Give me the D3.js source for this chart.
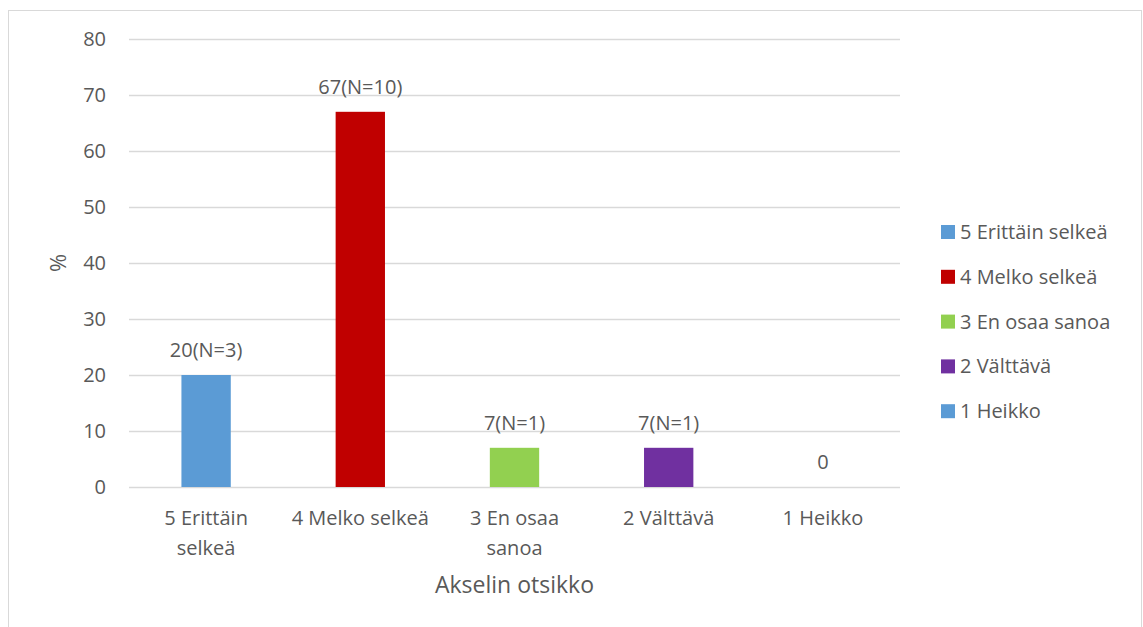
<!DOCTYPE html>
<html>
<head>
<meta charset="utf-8">
<script src="https://cdn.jsdelivr.net/npm/d3@7"></script>
<style>
  html, body { margin: 0; padding: 0; background: #fff; }
  svg { display: block; }
  text { font-family: "Open Sans", Lato, sans-serif; fill: #595959; }
</style>
</head>
<body>
<svg id="chart" width="1143" height="627"></svg>
<script>
// Survey answers: share of respondents (%) and count per answer
const categories = ["5 Erittäin selkeä", "4 Melko selkeä", "3 En osaa sanoa", "2 Välttävä", "1 Heikko"];
const axisLabels = [["5 Erittäin", "selkeä"], ["4 Melko selkeä"], ["3 En osaa", "sanoa"], ["2 Välttävä"], ["1 Heikko"]];
const percents = [20, 67, 7, 7, 0];
const counts = [3, 10, 1, 1, 0];
const colors = ["#5B9BD5", "#C00000", "#92D050", "#7030A0", "#5B9BD5"];
const yTicks = [0, 10, 20, 30, 40, 50, 60, 70, 80];
const yTitle = "%";
const xTitle = "Akselin otsikko";

const FONT = 20;
const svg = d3.select("#chart");

// chart frame
svg.append("rect")
  .attr("x", 8.5).attr("y", 10.5)
  .attr("width", 1133).attr("height", 640)
  .attr("fill", "#fff").attr("stroke", "#d9d9d9").attr("stroke-width", 1);

const plot = { left: 129, right: 900, top: 39, bottom: 487 };

const x = d3.scaleBand()
  .domain(categories)
  .range([plot.left, plot.right])
  .paddingInner(0.68)
  .paddingOuter(0.34);

const y = d3.scaleLinear()
  .domain([0, 80])
  .range([plot.bottom, plot.top]);

// horizontal gridlines
const yAxis = d3.axisLeft(y)
  .tickValues(yTicks)
  .tickSize(-(plot.right - plot.left))
  .tickPadding(23)
  .tickFormat(d3.format("d"));

const gy = svg.append("g")
  .attr("transform", `translate(${plot.left},0)`)
  .call(yAxis);
gy.select(".domain").remove();
gy.selectAll(".tick line").attr("stroke", "#d9d9d9").attr("stroke-width", 1.3);
gy.selectAll(".tick text")
  .attr("font-size", FONT)
  .attr("fill", "#595959")
  .style("font-family", "'Open Sans', Lato, sans-serif");

// bars
svg.append("g").selectAll("rect")
  .data(categories)
  .join("rect")
  .attr("x", d => x(d))
  .attr("width", x.bandwidth())
  .attr("y", (d, i) => y(percents[i]))
  .attr("height", (d, i) => y(0) - y(percents[i]))
  .attr("fill", (d, i) => colors[i]);

// value labels
svg.append("g").selectAll("text")
  .data(categories)
  .join("text")
  .attr("x", d => x(d) + x.bandwidth() / 2)
  .attr("y", (d, i) => y(percents[i]) - 18)
  .attr("text-anchor", "middle")
  .attr("font-size", FONT)
  .text((d, i) => percents[i] === 0 ? "0" : `${percents[i]}(N=${counts[i]})`);

// category labels
const xl = svg.append("g").selectAll("text")
  .data(categories)
  .join("text")
  .attr("x", d => x(d) + x.bandwidth() / 2)
  .attr("y", 525)
  .attr("text-anchor", "middle")
  .attr("font-size", FONT);
xl.selectAll("tspan")
  .data((d, i) => axisLabels[i])
  .join("tspan")
  .attr("x", function() { return d3.select(this.parentNode).attr("x"); })
  .attr("dy", (d, j) => j === 0 ? 0 : 30)
  .text(d => d);

// axis titles
svg.append("text")
  .attr("x", (plot.left + plot.right) / 2)
  .attr("y", 593)
  .attr("text-anchor", "middle")
  .attr("font-size", 23)
  .text(xTitle);

svg.append("text")
  .attr("transform", `translate(66,263) rotate(-90)`)
  .attr("text-anchor", "middle")
  .attr("font-size", 22)
  .text(yTitle);

// legend
const legend = svg.append("g").selectAll("g")
  .data(categories)
  .join("g")
  .attr("transform", (d, i) => `translate(941,${232 + i * 44.8})`);
legend.append("rect")
  .attr("x", 0).attr("y", -7)
  .attr("width", 14).attr("height", 14)
  .attr("fill", (d, i) => colors[i]);
legend.append("text")
  .attr("x", 19).attr("y", 7)
  .attr("font-size", FONT)
  .text(d => d);
</script>
</body>
</html>
